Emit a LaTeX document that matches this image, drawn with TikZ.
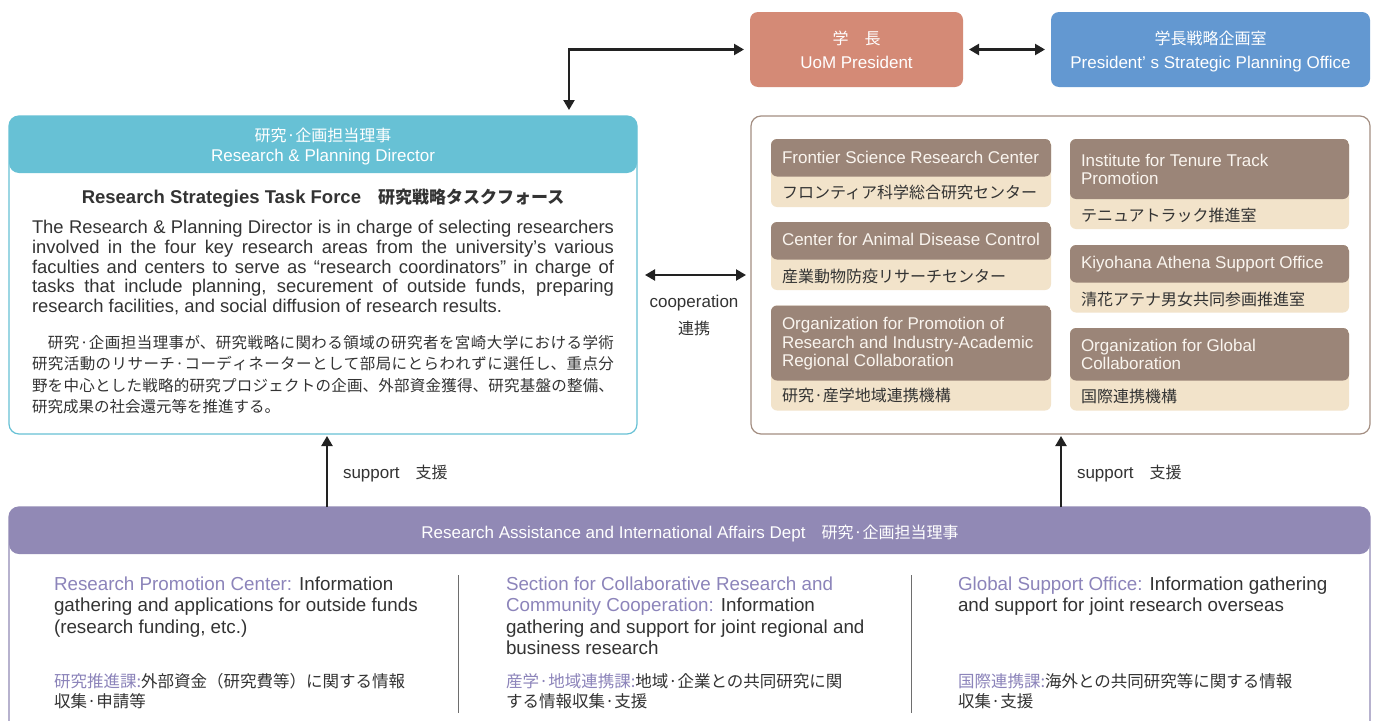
\documentclass[tikz,border=0pt]{standalone}
\usepackage{fontspec}
\setmainfont{Liberation Sans}
\newfontfamily\jpfont{Noto Sans CJK JP}
\usetikzlibrary{arrows.meta}
\definecolor{presc}{HTML}{D48A76}
\definecolor{officec}{HTML}{6398D1}
\definecolor{tealc}{HTML}{67C1D5}
\definecolor{brownhd}{HTML}{9B8578}
\definecolor{creamc}{HTML}{F2E3CA}
\definecolor{brownbd}{HTML}{A38E82}
\definecolor{purplec}{HTML}{9189B5}
\definecolor{purpletx}{HTML}{8C84BA}
\definecolor{textc}{HTML}{333333}
\definecolor{hdtext}{HTML}{FAF5EF}
\definecolor{divc}{HTML}{6E6E6E}
\definecolor{arrc}{HTML}{222222}
\newcommand\JP[2][16]{{\jpfont\fontsize{#1}{#1}\selectfont #2}}
\newcommand\EN[1]{\fontsize{#1}{#1}\selectfont}
\newcommand\stk[2]{\vtop{\baselineskip=#1\lineskiplimit=-100pt\lineskip=0pt\relax #2}}
\tikzset{
  box/.style={anchor=north west, inner sep=0pt, outer sep=0pt},
  tx/.style={inner sep=0pt, outer sep=0pt, text=textc},
  hw/.style={inner sep=0pt, outer sep=0pt, text=white},
  ht/.style={inner sep=0pt, outer sep=0pt, text=hdtext, anchor=base west, font=\EN{17}},
  bt/.style={inner sep=0pt, outer sep=0pt, text=textc, anchor=base west},
  ibox/.style={box, fill=creamc, rounded corners=6pt},
  hdfill/.style 2 args={path picture={\fill[#1] (path picture bounding box.north west) rectangle ([yshift=-#2]path picture bounding box.north east);}},
  arr/.style={draw=arrc, line width=2.2pt, -{Triangle[length=10pt,width=11pt]}},
  dbl/.style={draw=arrc, line width=2.2pt, {Triangle[length=10pt,width=11pt]}-{Triangle[length=10pt,width=11pt]}},
}
\begin{document}
\begin{tikzpicture}[x=1pt,y=-1pt]
\useasboundingbox (0,0) rectangle (1378,720);
\fill[white] (0,0) rectangle (1378,720);

% top boxes
\node[box, fill=presc, rounded corners=8pt, minimum width=213pt, minimum height=75pt] (pres) at (750,12) {};
\node[box, fill=officec, rounded corners=8pt, minimum width=319pt, minimum height=75pt] (office) at (1051,12) {};
\node[hw, anchor=base] (presjp) at (856.5,44) {\JP{学　長}};
\node[hw, anchor=base, font=\EN{17}] (presen) at (856.5,68) {UoM President};
\node[hw, anchor=base] (offjp) at (1210.5,44) {\JP{学長戦略企画室}};
\node[hw, anchor=base, font=\EN{17}] (offen) at (1210.5,68) {President’ s Strategic Planning Office};

% director box
\node[box, draw=tealc, line width=1.2pt, fill=white, rounded corners=10pt, minimum width=628pt, minimum height=318pt, hdfill={tealc}{57pt}] (dir) at (9,116) {};
\node[hw, anchor=base] (dirjp) at (323,141) {\JP{研究·企画担当理事}};
\node[hw, anchor=base, font=\EN{17}] (diren) at (323,161) {Research \& Planning Director};
\node[tx, anchor=base, font=\bfseries\EN{18.5}] (title) at (323,203) {Research Strategies Task Force\JP[17]{\bfseries 　研究戦略タスクフォース}};
\node[bt, font=\EN{18.4}] (para) at (32,233.5) {\stk{19.8pt}{%
\hbox to 582pt{The Research \& Planning Director is in charge of selecting researchers}%
\hbox to 582pt{involved in the four key research areas from the university’s various}%
\hbox to 582pt{faculties and centers to serve as “research coordinators” in charge of}%
\hbox to 582pt{tasks that include planning, securement of outside funds, preparing}%
\hbox{research facilities, and social diffusion of research results.}}};
\node[bt, font=\jpfont\EN{15.5}] (parajp) at (32,348.3) {\XeTeXlinebreaklocale "ja"\XeTeXlinebreakskip=0pt plus 4pt\relax\vtop{\hsize=582pt\parindent=0pt\parskip=0pt\baselineskip=21.5pt\lineskiplimit=-100pt\lineskip=0pt\parfillskip=0pt\relax
　研究·企画担当理事が、研究戦略に関わる領域の研究者を宮崎大学における学術\par
研究活動のリサーチ·コーディネーターとして部局にとらわれずに選任し、重点分\par
野を中心とした戦略的研究プロジェクトの企画、外部資金獲得、研究基盤の整備、\par
\parfillskip=0pt plus 1fil\relax 研究成果の社会還元等を推進する。\par}};

% organisations box
\node[box, draw=brownbd, line width=1.2pt, fill=white, rounded corners=10pt, minimum width=619pt, minimum height=318pt] (orgs) at (751,116) {};
\node[ibox, minimum width=280pt, minimum height=68pt, hdfill={brownhd}{37.5pt}] (fsrc) at (771,139) {};
\node[ibox, minimum width=280pt, minimum height=68pt, hdfill={brownhd}{37.5pt}] (cadc) at (771,222) {};
\node[ibox, minimum width=280pt, minimum height=105pt, hdfill={brownhd}{75pt}] (opr) at (771,305.5) {};
\node[ibox, minimum width=279pt, minimum height=90pt, hdfill={brownhd}{60pt}] (itt) at (1070,139) {};
\node[ibox, minimum width=279pt, minimum height=67.5pt, hdfill={brownhd}{37.5pt}] (kas) at (1070,245) {};
\node[ibox, minimum width=279pt, minimum height=82.5pt, hdfill={brownhd}{52.5pt}] (ogc) at (1070,328) {};
\node[ht] (fsrcen) at (782,163) {Frontier Science Research Center};
\node[bt] (fsrcjp) at (782,198.5) {\JP{フロンティア科学総合研究センター}};
\node[ht] (cadcen) at (782,245.5) {Center for Animal Disease Control};
\node[bt] (cadcjp) at (782,282) {\JP{産業動物防疫リサーチセンター}};
\node[ht] (opren) at (782,329.5) {\stk{18.7pt}{\hbox{Organization for Promotion of}\hbox{Research and Industry-Academic}\hbox{Regional Collaboration}}};
\node[bt] (oprjp) at (782,401.5) {\JP{研究·産学地域連携機構}};
\node[ht] (itten) at (1081,166) {\stk{18.7pt}{\hbox{Institute for Tenure Track}\hbox{Promotion}}};
\node[bt] (ittjp) at (1081,221.5) {\JP{テニュアトラック推進室}};
\node[ht] (kasen) at (1081,268.5) {Kiyohana Athena Support Office};
\node[bt] (kasjp) at (1081,305) {\JP{清花アテナ男女共同参画推進室}};
\node[ht] (ogcen) at (1081,351) {\stk{18.7pt}{\hbox{Organization for Global}\hbox{Collaboration}}};
\node[bt] (ogcjp) at (1081,402) {\JP{国際連携機構}};

% cooperation
\node[tx, anchor=base, font=\EN{17}] (coopen) at (694,307) {cooperation};
\node[tx, anchor=base] (coopjp) at (694,334) {\JP{連携}};

% department box
\node[box, draw=purplec, line width=1.2pt, fill=white, rounded corners=10pt, minimum width=1361pt, minimum height=240pt, hdfill={purplec}{47pt}] (dept) at (9,507) {};
\node[hw, anchor=base, font=\EN{17}] (depthd) at (690,538) {Research Assistance and International Affairs Dept\JP{　研究·企画担当理事}};
\draw[divc, line width=1pt] (458,575) -- (458,713);
\draw[divc, line width=1pt] (911,575) -- (911,713);

\node[bt, font=\EN{18.8}] (c1en) at (54,590.5) {\stk{21.3pt}{%
\hbox{{\color{purpletx}Research Promotion Center:} Information}%
\hbox{gathering and applications for outside funds}%
\hbox{(research funding, etc.)}}};
\node[bt] (c1jp) at (54,687) {\stk{20pt}{%
\hbox{\JP[16.5]{{\color{purpletx}研究推進課:}外部資金（研究費等）に関する情報}}%
\hbox{\JP[16.5]{収集·申請等}}}};

\node[bt, font=\EN{18.8}] (c2en) at (506,590.5) {\stk{21.3pt}{%
\hbox{{\color{purpletx}Section for Collaborative Research and}}%
\hbox{{\color{purpletx}Community Cooperation:} Information}%
\hbox{gathering and support for joint regional and}%
\hbox{business research}}};
\node[bt] (c2jp) at (506,687) {\stk{20pt}{%
\hbox{\JP[16.5]{{\color{purpletx}産学·地域連携課:}地域·企業との共同研究に関}}%
\hbox{\JP[16.5]{する情報収集·支援}}}};

\node[bt, font=\EN{18.8}] (c3en) at (958,590.5) {\stk{21.3pt}{%
\hbox{{\color{purpletx}Global Support Office:} Information gathering}%
\hbox{and support for joint research overseas}}};
\node[bt] (c3jp) at (958,687) {\stk{20pt}{%
\hbox{\JP[16.5]{{\color{purpletx}国際連携課:}海外との共同研究等に関する情報}}%
\hbox{\JP[16.5]{収集·支援}}}};

% support labels
\node[bt, font=\EN{17}] (sup1) at (343,478) {support\JP{　支援}};
\node[bt, font=\EN{17}] (sup2) at (1077,478) {support\JP{　支援}};

% connectors
\coordinate (kx) at (569,0);
\coordinate (s1) at (327,0);
\coordinate (s2) at (1061,0);
\draw[dbl, shorten <=6pt, shorten >=6pt] (pres.west) -| (dir.north -| kx);
\draw[dbl, shorten <=6pt, shorten >=6pt] (pres.east) -- (office.west);
\draw[dbl, shorten <=8pt, shorten >=5pt] (dir.east) -- (orgs.west);
\draw[arr, shorten >=2pt] (dept.north -| s1) -- (dir.south -| s1);
\draw[arr, shorten >=2pt] (dept.north -| s2) -- (orgs.south -| s2);
\end{tikzpicture}
\end{document}
